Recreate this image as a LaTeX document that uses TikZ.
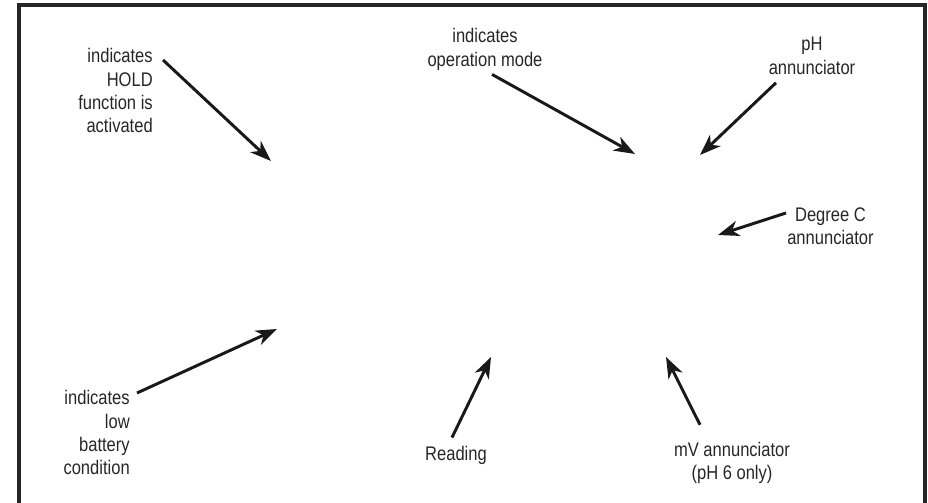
\documentclass[tikz,border=0pt]{standalone}
\usepackage{fontspec}
\setmainfont{Liberation Sans}[FakeStretch=0.84]
\usepackage{xcolor}
\usepackage{tikz}
\usetikzlibrary{arrows.meta}

\begin{document}
\begin{tikzpicture}[x=0.025cm,y=-0.025cm,
		label/.style={inner sep=0pt,text=black!85,font=\fontsize{14}{16.7}\selectfont},
		pointer/.style={line width=2.1pt,black!90,-{Stealth[length=15pt,width=11pt,inset=4.5pt]}}]
		\useasboundingbox (0,0) rectangle (928,503);
		\draw[line width=2.4pt,black!85] (19,503) -- (19,5) -- (925,5) -- (925,503);

		\node[label,align=right,anchor=north east] (hold) at (153,48) {indicates\\HOLD\\function is\\activated};
		\node[label,align=center,anchor=north] (mode) at (485,28) {indicates\\operation mode};
		\node[label,align=center,anchor=north] (ph) at (812,37) {pH\\annunciator};
		\node[label,align=center,anchor=west] (degc) at (787,226) {Degree C\\annunciator};
		\node[label,align=right,anchor=north east] (batt) at (130,390) {indicates\\low\\battery\\condition};
		\node[label] (read) at (456,455) {Reading};
		\node[label,align=center] (mv) at (732,463) {mV annunciator\\(pH 6 only)};

		\coordinate (holdpt) at (271,161);
		\coordinate (modept) at (635,154);
		\coordinate (phpt) at (700,155);
		\coordinate (degcpt) at (718,235);
		\coordinate (battpt) at (277,329);
		\coordinate (readpt) at (491,357);
		\coordinate (mvpt) at (666,357);

		\draw[pointer] ([shift={(10,12)}]hold.north east) -- (holdpt);
		\draw[pointer] ([shift={(7,4)}]mode.south) -- (modept);
		\draw[pointer] ([shift={(-36,8)}]ph.south) -- (phpt);
		\draw[pointer] ([shift={(-1,-13)}]degc.west) -- (degcpt);
		\draw[pointer] ([shift={(7,3)}]batt.north east) -- (battpt);
		\draw[pointer] ([shift={(-4,-8)}]read.north) -- (readpt);
		\draw[pointer] ([shift={(-32,-17)}]mv.north) -- (mvpt);
\end{tikzpicture}
\end{document}
